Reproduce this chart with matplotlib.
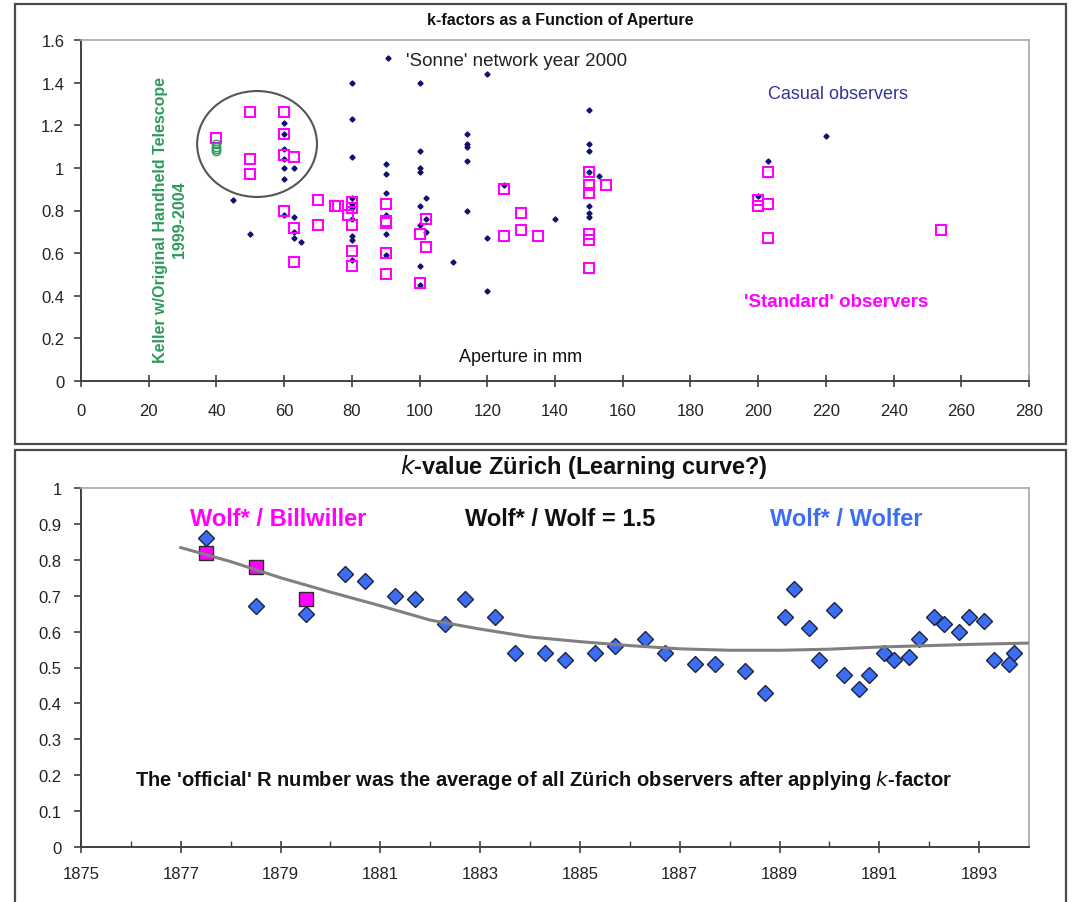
import numpy as np
import matplotlib.pyplot as plt
from matplotlib.patches import Ellipse, Rectangle
from matplotlib.ticker import FormatStrFormatter
from matplotlib import font_manager

plt.rcParams['font.family'] = ['Liberation Sans', 'DejaVu Sans']

# --- k-factor vs aperture (mm) ---
casual_x = [45, 50, 60, 60, 60, 60, 60, 60, 60, 63, 63, 63, 63, 65,
            80, 80, 80, 80, 80, 80, 80, 80, 80, 80,
            90, 90, 90, 90, 90, 90,
            100, 100, 100, 100, 100, 100, 100, 100, 102, 102, 102, 110,
            114, 114, 114, 114, 114, 120, 120, 120, 125, 140,
            150, 150, 150, 150, 150, 150, 150, 153, 200, 203, 220]
casual_y = [0.85, 0.69, 1.21, 1.16, 1.09, 1.04, 1.00, 0.95, 0.78, 1.00, 0.77, 0.70, 0.67, 0.65,
            1.40, 1.23, 1.05, 0.86, 0.83, 0.81, 0.76, 0.68, 0.66, 0.57,
            1.02, 0.97, 0.88, 0.78, 0.69, 0.59,
            1.40, 1.08, 1.00, 0.98, 0.82, 0.73, 0.54, 0.45, 0.86, 0.76, 0.70, 0.56,
            1.16, 1.11, 1.10, 1.03, 0.80, 1.44, 0.67, 0.42, 0.92, 0.76,
            1.27, 1.11, 1.08, 0.98, 0.82, 0.79, 0.77, 0.96, 0.87, 1.03, 1.15]

standard_x = [40, 50, 50, 50, 60, 60, 60, 60, 63, 63, 63,
              70, 70, 75, 76, 79, 80, 80, 80, 80, 80,
              90, 90, 90, 90, 90, 100, 100, 102, 102,
              125, 125, 130, 130, 135,
              150, 150, 150, 150, 150, 150, 155,
              200, 200, 203, 203, 203, 254]
standard_y = [1.14, 1.26, 1.04, 0.97, 1.26, 1.16, 1.06, 0.80, 1.05, 0.72, 0.56,
              0.85, 0.73, 0.82, 0.82, 0.78, 0.84, 0.81, 0.73, 0.61, 0.54,
              0.83, 0.75, 0.74, 0.60, 0.50, 0.69, 0.46, 0.76, 0.63,
              0.90, 0.68, 0.79, 0.71, 0.68,
              0.98, 0.92, 0.88, 0.69, 0.66, 0.53, 0.92,
              0.85, 0.82, 0.98, 0.83, 0.67, 0.71]

keller_x = [40, 40, 40, 40]
keller_y = [1.08, 1.09, 1.10, 1.11]

aperture_ticks = np.arange(0, 281, 20)
kfactor_ticks = np.arange(0, 1.61, 0.2)

# --- k-value Zurich by year ---
wolfer_year = [1877.5, 1878.5, 1879.5, 1880.3, 1880.7, 1881.3, 1881.7, 1882.3, 1882.7,
               1883.3, 1883.7, 1884.3, 1884.7, 1885.3, 1885.7, 1886.3, 1886.7,
               1887.3, 1887.7, 1888.3, 1888.7, 1889.1, 1889.3, 1889.6, 1889.8,
               1890.1, 1890.3, 1890.6, 1890.8, 1891.1, 1891.3, 1891.6, 1891.8,
               1892.1, 1892.3, 1892.6, 1892.8, 1893.1, 1893.3, 1893.6, 1893.7]
wolfer_k = [0.86, 0.67, 0.65, 0.76, 0.74, 0.70, 0.69, 0.62, 0.69,
            0.64, 0.54, 0.54, 0.52, 0.54, 0.56, 0.58, 0.54,
            0.51, 0.51, 0.49, 0.43, 0.64, 0.72, 0.61, 0.52,
            0.66, 0.48, 0.44, 0.48, 0.54, 0.52, 0.53, 0.58,
            0.64, 0.62, 0.60, 0.64, 0.63, 0.52, 0.51, 0.54]

billwiller_year = [1877.5, 1878.5, 1879.5]
billwiller_k = [0.82, 0.78, 0.69]

trend_year = [1877, 1878, 1879, 1880, 1881, 1882, 1883, 1884, 1885,
              1886, 1887, 1888, 1889, 1890, 1891, 1892, 1893, 1894]
trend_k = [0.834, 0.795, 0.750, 0.710, 0.672, 0.632, 0.607, 0.585, 0.572,
           0.561, 0.552, 0.548, 0.548, 0.551, 0.557, 0.561, 0.565, 0.568]

year_ticks = np.arange(1875, 1894, 2)
year_minor = np.arange(1876, 1894, 2)
kvalue_ticks = np.arange(0, 1.01, 0.1)

# condensed face for the upper title, if the system has one
names = {f.name for f in font_manager.fontManager.ttflist}
if 'Liberation Sans Narrow' in names:
    title_font = dict(family='Liberation Sans Narrow', fontsize=13.5)
else:
    title_font = dict(fontsize=11.5)

W, H = 1072, 903
fig = plt.figure(figsize=(W / 100, H / 100), dpi=100)


def px_rect(x0, y0, x1, y1):
    return [x0 / W, 1 - y1 / H, (x1 - x0) / W, (y1 - y0) / H]


# panel frames
for (x0, y0, x1, y1) in [(15, 5, 1066, 445), (15, 451, 1066, 915)]:
    fig.add_artist(Rectangle((x0 / W, 1 - y1 / H), (x1 - x0) / W, (y1 - y0) / H,
                             transform=fig.transFigure, fill=False,
                             ec='#4a4a4a', lw=1.6))


def style_axes(ax):
    for s in ['left', 'bottom']:
        ax.spines[s].set_color('#404040')
        ax.spines[s].set_linewidth(1.4)
    for s in ['top', 'right']:
        ax.spines[s].set_color('#a8a8a8')
        ax.spines[s].set_linewidth(1.2)
    ax.tick_params(axis='y', direction='out', length=5, width=1.2,
                   color='#404040', labelsize=12, pad=7, labelcolor='#222222')
    ax.tick_params(axis='x', which='major', direction='inout', length=9, width=1.2,
                   color='#404040', labelsize=12, labelcolor='#222222')
    ax.tick_params(axis='x', which='minor', direction='in', length=4, width=1.0,
                   color='#404040')
    ax.yaxis.set_major_formatter(FormatStrFormatter('%g'))


# ---------------- top panel ----------------
ax1 = fig.add_axes(px_rect(81, 41, 1029, 382))
style_axes(ax1)
ax1.set_xlim(0, 280)
ax1.set_ylim(0, 1.6)
ax1.set_xticks(aperture_ticks)
ax1.set_yticks(kfactor_ticks)
ax1.yaxis.set_major_formatter(FormatStrFormatter('%g'))
ax1.tick_params(axis='x', pad=11)

casual, = ax1.plot(casual_x, casual_y, ls='none', marker='D', ms=2.6,
                   color='#10106e', mec='#10106e')
ax1.plot(standard_x, standard_y, ls='none', marker='s', ms=7, mfc='none',
         mec='#ff00ff', mew=1.5)
ax1.plot(keller_x, keller_y, ls='none', marker='o', ms=6, mfc='none',
         mec='#2e9a5a', mew=1.0)
ax1.add_patch(Ellipse((52, 1.112), 35.4, 0.497, fill=False, ec='#555555', lw=1.5))

ax1.legend([casual], ["'Sonne' network year 2000"], loc='upper left',
           bbox_to_anchor=(0.314, 0.966), frameon=False, handlelength=1.0,
           handletextpad=0.45, borderpad=0, borderaxespad=0, numpoints=1,
           prop={'size': 13.5}, labelcolor='#222222')

ax1.text(223.5, 1.347, 'Casual observers', color='#33339a', fontsize=13,
         ha='center', va='center')
ax1.text(223, 0.375, "'Standard' observers", color='#ff00ff', fontsize=13.5,
         fontweight='bold', ha='center', va='center')
ax1.text(129.7, 0.113, 'Aperture in mm', color='#111111', fontsize=13,
         ha='center', va='center')
ax1.text(26.3, 0.76, 'Keller w/Original Handheld Telescope\n1999-2004',
         rotation=90, ha='center', va='center', multialignment='center',
         color='#2e9a5a', fontsize=11.5, fontweight='bold', linespacing=1.3)

fig.text(560 / W, 1 - 20 / H, 'k-factors as a Function of Aperture',
         ha='center', va='center', fontweight='bold', color='#111111',
         **title_font)

# ---------------- bottom panel ----------------
ax2 = fig.add_axes(px_rect(81, 489, 1029, 848))
style_axes(ax2)
ax2.set_xlim(1875, 1894)
ax2.set_ylim(0, 1)
ax2.set_xticks(year_ticks)
ax2.set_xticks(year_minor, minor=True)
ax2.set_yticks(kvalue_ticks)
ax2.yaxis.set_major_formatter(FormatStrFormatter('%g'))
ax2.tick_params(axis='x', pad=9)
ax2.tick_params(axis='y', pad=9)

ax2.plot(wolfer_year, wolfer_k, ls='none', marker='D', ms=7.8,
         mfc='#3b6ef2', mec='#1c2440', mew=1.0, zorder=3)
ax2.plot(billwiller_year, billwiller_k, ls='none', marker='s', ms=9.5,
         mfc='#ff00ff', mec='#2a2a2a', mew=1.0, zorder=3)
ax2.plot(trend_year, trend_k, color='#808080', lw=2.2, zorder=4)

ax2.text(1878.95, 0.914, 'Wolf* / Billwiller', color='#ff00ff', fontsize=17,
         fontweight='bold', ha='center', va='center')
ax2.text(1884.6, 0.914, 'Wolf* / Wolf = 1.5', color='#111111', fontsize=17,
         fontweight='bold', ha='center', va='center')
ax2.text(1890.33, 0.914, 'Wolf* / Wolfer', color='#3b6ef2', fontsize=17,
         fontweight='bold', ha='center', va='center')
ax2.text(1884.26, 0.187,
         "The 'official' R number was the average of all Zürich observers after applying $\\mathbf{\\mathit{k}}$-factor",
         color='#111111', fontsize=14.5, fontweight='bold', ha='center', va='center')

fig.text(584 / W, 1 - 467 / H, '$\\mathbf{\\mathit{k}}$-value Zürich (Learning curve?)',
         ha='center', va='center', fontsize=17, fontweight='bold', color='#111111')

fig.savefig('out.png', dpi=100)
